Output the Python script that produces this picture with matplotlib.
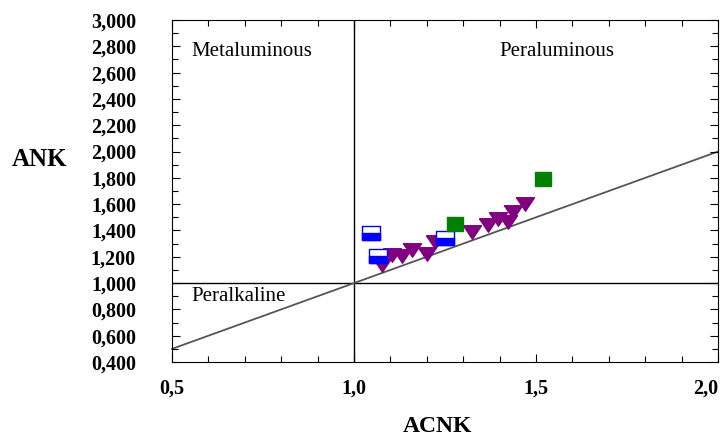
import matplotlib
matplotlib.use('Agg')
from matplotlib import pyplot as plt
from matplotlib.ticker import MultipleLocator, FuncFormatter

# data
blue_acnk = [1.047, 1.066, 1.25]
blue_ank = [1.38, 1.205, 1.34]

green_acnk = [1.277, 1.52]
green_ank = [1.45, 1.79]

purple_acnk = [1.076, 1.104, 1.131, 1.159, 1.200, 1.223, 1.323, 1.368, 1.396, 1.423, 1.437, 1.470]
purple_ank = [1.135, 1.211, 1.204, 1.249, 1.224, 1.313, 1.391, 1.441, 1.490, 1.468, 1.544, 1.605]

# reference lines
line_x = [0.5, 2.0]
line_y = [0.5, 2.0]

plt.rcParams['font.family'] = ['Liberation Serif', 'DejaVu Serif']

fig = plt.figure(figsize=(7.24, 4.38), dpi=100)
ax = fig.add_axes([0.2376, 0.1735, 0.9917 - 0.2376, 0.9543 - 0.1735])

ax.set_xlim(0.5, 2.0)
ax.set_ylim(0.4, 3.0)

# field boundaries
ax.axvline(1.0, color='black', lw=1.0, zorder=1)
ax.axhline(1.0, color='black', lw=1.0, zorder=1)
ax.plot(line_x, line_y, color='#555555', lw=1.3, zorder=1, clip_on=False)

# custom marker shapes (wider than tall, like the original)
tri = [(-1, 0.75), (1, 0.75), (0, -0.75), (-1, 0.75)]
rect = [(-1, -0.75), (1, -0.75), (1, 0.75), (-1, 0.75), (-1, -0.75)]
half = [(-1, -0.75), (1, -0.75), (1, 0.0), (-1, 0.0), (-1, -0.75)]
sq = [(-1, -0.87), (1, -0.87), (1, 0.87), (-1, 0.87), (-1, -0.87)]

ax.plot(purple_acnk, purple_ank, ls='none', marker=tri, ms=13,
        color='#800080', mec='#800080', zorder=3)
ax.plot(blue_acnk, blue_ank, ls='none', marker=rect, ms=13,
        mfc='white', mec='#0000FF', mew=1.0, zorder=4)
ax.plot(blue_acnk, blue_ank, ls='none', marker=half, ms=13,
        mfc='#0000FF', mec='#0000FF', mew=1.0, zorder=5)
ax.plot(green_acnk, green_ank, ls='none', marker=sq, ms=11,
        color='#008000', mec='#008000', zorder=6)

# field names
ax.text(0.552, 2.76, 'Metaluminous', fontsize=15, va='center', ha='left')
ax.text(1.558, 2.76, 'Peraluminous', fontsize=15, va='center', ha='center')
ax.text(0.552, 0.90, 'Peralkaline', fontsize=15, va='center', ha='left')

# ticks
ax.xaxis.set_major_locator(MultipleLocator(0.5))
ax.xaxis.set_minor_locator(MultipleLocator(0.1))
ax.yaxis.set_major_locator(MultipleLocator(0.2))
ax.yaxis.set_minor_locator(MultipleLocator(0.1))
ax.xaxis.set_major_formatter(FuncFormatter(lambda v, p: f"{v:.1f}".replace('.', ',')))
ax.yaxis.set_major_formatter(FuncFormatter(lambda v, p: f"{v:.3f}".replace('.', ',')))

ax.tick_params(which='both', direction='in', top=True, right=True, width=0.8)
ax.tick_params(which='major', length=6)
ax.tick_params(which='minor', length=4)
ax.tick_params(axis='x', which='major', pad=12, labelsize=14.5)
ax.tick_params(axis='y', which='major', pad=26, labelsize=14.5)

for s in ax.spines.values():
    s.set_linewidth(0.8)

fig.text(40 / 724, 1 - 160 / 438, 'ANK', fontsize=18, fontweight='bold',
         ha='center', va='center')
fig.text(437 / 724, 1 - 426 / 438, 'ACNK', fontsize=17, fontweight='bold',
         ha='center', va='center')

# make tick labels bold and pull the last x label inside the figure
fig.canvas.draw()
for tick in ax.xaxis.get_major_ticks() + ax.yaxis.get_major_ticks():
    tick.label1.set_fontweight('bold')
    if tick.label1.get_text() == '2,0':
        tick.label1.set_horizontalalignment('right')

fig.savefig('out.png', dpi=100)
